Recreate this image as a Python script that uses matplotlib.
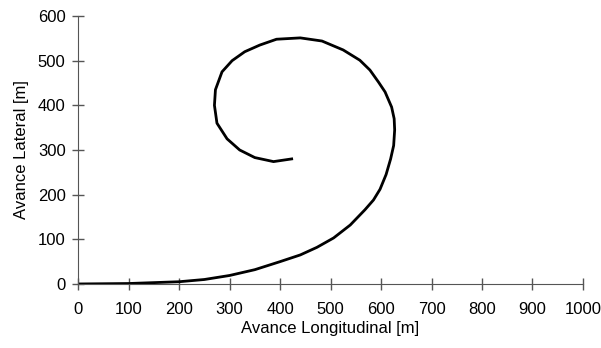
import matplotlib.pyplot as plt

plt.rcParams['font.family'] = ['Liberation Sans', 'DejaVu Sans']

# trayectoria
avance_long = [0, 100, 200, 250, 300, 350, 400, 440, 473, 506, 539, 568, 585,
               598, 610, 619, 625, 627, 626, 621, 608, 595, 578, 558, 525,
               483, 440, 393, 360, 330, 305, 285, 272, 270, 275, 295, 320,
               350, 387, 423]
avance_lat = [0, 1, 5, 10, 19, 32, 50, 65, 82, 103, 132, 166, 188,
              212, 245, 280, 310, 345, 370, 396, 430, 452, 479, 501, 524,
              544, 551, 548, 535, 520, 500, 475, 435, 400, 360, 325, 300,
              283, 274, 280]

fig = plt.figure(figsize=(6.01, 3.48), dpi=100)
ax = fig.add_axes([0.13, 0.184, 0.84, 0.77])

ax.plot(avance_long, avance_lat, color='black', linewidth=2)

ax.set_xlim(0, 1000)
ax.set_ylim(0, 600)
ax.set_xticks(range(0, 1001, 100))
ax.set_yticks(range(0, 601, 100))
ax.tick_params(direction='inout', length=8, width=1, color='#555555',
               labelsize=12)
ax.tick_params(axis='x', pad=9)
ax.tick_params(axis='y', pad=5)
for s in ['top', 'right']:
    ax.spines[s].set_visible(False)
for s in ['left', 'bottom']:
    ax.spines[s].set_color('#555555')

ax.set_xlabel('Avance Longitudinal [m]', fontsize=12, labelpad=3)
ax.set_ylabel('Avance Lateral [m]', fontsize=12, labelpad=6)

fig.savefig('out.png', dpi=100)
